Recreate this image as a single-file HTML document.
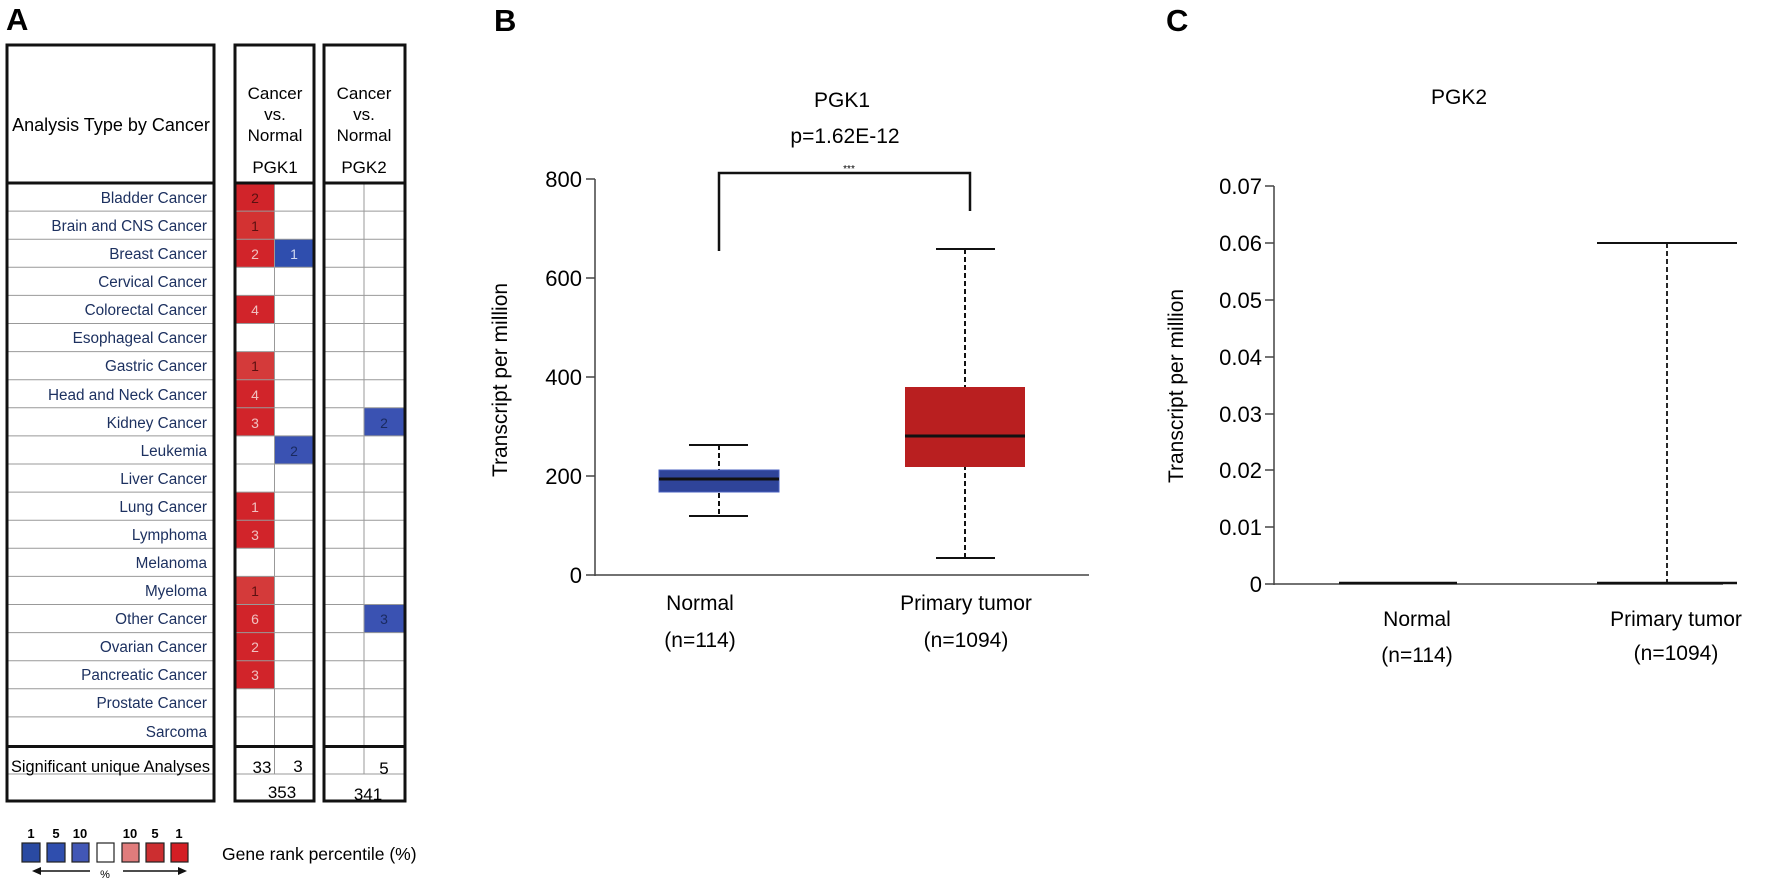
<!DOCTYPE html>
<html><head><meta charset="utf-8"><style>
html,body{margin:0;padding:0;background:#fff;}
svg{display:block;}
text{font-family:"Liberation Sans",Arial,sans-serif;}
.rl{font-family:"DejaVu Sans",sans-serif;font-size:15.3px;fill:#1d3160;text-anchor:end;}
.cn{font-family:"DejaVu Sans",sans-serif;font-size:14px;text-anchor:middle;}
</style></head><body>
<svg width="1772" height="887" viewBox="0 0 1772 887" xmlns="http://www.w3.org/2000/svg">
<!-- Panel A -->
<text x="6" y="30" font-size="31" font-weight="bold">A</text>
<g stroke="#999" stroke-width="1">
<line x1="6" x2="215" y1="211.1" y2="211.1"/><line x1="6" x2="215" y1="239.2" y2="239.2"/><line x1="6" x2="215" y1="267.3" y2="267.3"/><line x1="6" x2="215" y1="295.4" y2="295.4"/><line x1="6" x2="215" y1="323.5" y2="323.5"/><line x1="6" x2="215" y1="351.6" y2="351.6"/><line x1="6" x2="215" y1="379.7" y2="379.7"/><line x1="6" x2="215" y1="407.8" y2="407.8"/><line x1="6" x2="215" y1="435.9" y2="435.9"/><line x1="6" x2="215" y1="464" y2="464"/><line x1="6" x2="215" y1="492.1" y2="492.1"/><line x1="6" x2="215" y1="520.2" y2="520.2"/><line x1="6" x2="215" y1="548.3" y2="548.3"/><line x1="6" x2="215" y1="576.4" y2="576.4"/><line x1="6" x2="215" y1="604.5" y2="604.5"/><line x1="6" x2="215" y1="632.6" y2="632.6"/><line x1="6" x2="215" y1="660.7" y2="660.7"/><line x1="6" x2="215" y1="688.8" y2="688.8"/><line x1="6" x2="215" y1="716.9" y2="716.9"/>
</g>
<g>
<rect x="236" y="183" width="38.5" height="28.1" fill="#d1242a"/>
<rect x="236" y="211.1" width="38.5" height="28.1" fill="#d33232"/>
<rect x="236" y="239.2" width="38.5" height="28.1" fill="#d1242a"/>
<rect x="274.5" y="239.2" width="38.5" height="28.1" fill="#2f4eae"/>
<rect x="236" y="295.4" width="38.5" height="28.1" fill="#d1242a"/>
<rect x="236" y="351.6" width="38.5" height="28.1" fill="#d43a3a"/>
<rect x="236" y="379.7" width="38.5" height="28.1" fill="#d1242a"/>
<rect x="236" y="407.8" width="38.5" height="28.1" fill="#d1242a"/>
<rect x="274.5" y="435.9" width="38.5" height="28.1" fill="#3a52b2"/>
<rect x="236" y="492.1" width="38.5" height="28.1" fill="#d1242a"/>
<rect x="236" y="520.2" width="38.5" height="28.1" fill="#d1242a"/>
<rect x="236" y="576.4" width="38.5" height="28.1" fill="#d43a3a"/>
<rect x="236" y="604.5" width="38.5" height="28.1" fill="#d1242a"/>
<rect x="236" y="632.6" width="38.5" height="28.1" fill="#d1242a"/>
<rect x="236" y="660.7" width="38.5" height="28.1" fill="#d1242a"/>
<rect x="364" y="407.8" width="41" height="28.1" fill="#3a52b2"/>
<rect x="364" y="604.5" width="41" height="28.1" fill="#3a52b2"/>
</g>
<g stroke="#999" stroke-width="1">
<line x1="236" x2="313" y1="211.1" y2="211.1"/><line x1="236" x2="313" y1="239.2" y2="239.2"/><line x1="236" x2="313" y1="267.3" y2="267.3"/><line x1="236" x2="313" y1="295.4" y2="295.4"/><line x1="236" x2="313" y1="323.5" y2="323.5"/><line x1="236" x2="313" y1="351.6" y2="351.6"/><line x1="236" x2="313" y1="379.7" y2="379.7"/><line x1="236" x2="313" y1="407.8" y2="407.8"/><line x1="236" x2="313" y1="435.9" y2="435.9"/><line x1="236" x2="313" y1="464" y2="464"/><line x1="236" x2="313" y1="492.1" y2="492.1"/><line x1="236" x2="313" y1="520.2" y2="520.2"/><line x1="236" x2="313" y1="548.3" y2="548.3"/><line x1="236" x2="313" y1="576.4" y2="576.4"/><line x1="236" x2="313" y1="604.5" y2="604.5"/><line x1="236" x2="313" y1="632.6" y2="632.6"/><line x1="236" x2="313" y1="660.7" y2="660.7"/><line x1="236" x2="313" y1="688.8" y2="688.8"/><line x1="236" x2="313" y1="716.9" y2="716.9"/>
<line x1="323" x2="405" y1="211.1" y2="211.1"/><line x1="323" x2="405" y1="239.2" y2="239.2"/><line x1="323" x2="405" y1="267.3" y2="267.3"/><line x1="323" x2="405" y1="295.4" y2="295.4"/><line x1="323" x2="405" y1="323.5" y2="323.5"/><line x1="323" x2="405" y1="351.6" y2="351.6"/><line x1="323" x2="405" y1="379.7" y2="379.7"/><line x1="323" x2="405" y1="407.8" y2="407.8"/><line x1="323" x2="405" y1="435.9" y2="435.9"/><line x1="323" x2="405" y1="464" y2="464"/><line x1="323" x2="405" y1="492.1" y2="492.1"/><line x1="323" x2="405" y1="520.2" y2="520.2"/><line x1="323" x2="405" y1="548.3" y2="548.3"/><line x1="323" x2="405" y1="576.4" y2="576.4"/><line x1="323" x2="405" y1="604.5" y2="604.5"/><line x1="323" x2="405" y1="632.6" y2="632.6"/><line x1="323" x2="405" y1="660.7" y2="660.7"/><line x1="323" x2="405" y1="688.8" y2="688.8"/><line x1="323" x2="405" y1="716.9" y2="716.9"/>
<line x1="274.5" x2="274.5" y1="183" y2="774"/>
<line x1="364" x2="364" y1="183" y2="774"/>
<line x1="6" x2="215" y1="774" y2="774"/><line x1="236" x2="313" y1="774" y2="774"/><line x1="323" x2="405" y1="774" y2="774"/>
</g>
<g fill="none" stroke="#111" stroke-width="3">
<rect x="7" y="45" width="207" height="756"/>
<rect x="235" y="45" width="79" height="756"/>
<rect x="324" y="45" width="81" height="756"/>
<line x1="6" x2="215" y1="183" y2="183"/><line x1="234" x2="315" y1="183" y2="183"/><line x1="323" x2="406" y1="183" y2="183"/>
<line x1="6" x2="215" y1="746.5" y2="746.5"/><line x1="234" x2="315" y1="746.5" y2="746.5"/><line x1="323" x2="406" y1="746.5" y2="746.5"/>
</g>
<text x="111" y="131" font-size="18" text-anchor="middle">Analysis Type by Cancer</text>
<g font-size="17" text-anchor="middle">
<text x="275" y="99">Cancer</text><text x="275" y="120">vs.</text><text x="275" y="141">Normal</text><text x="275" y="173">PGK1</text>
<text x="364" y="99">Cancer</text><text x="364" y="120">vs.</text><text x="364" y="141">Normal</text><text x="364" y="173">PGK2</text>
</g>
<g class="rl">
<text x="207" y="203">Bladder Cancer</text>
<text x="207" y="231">Brain and CNS Cancer</text>
<text x="207" y="259">Breast Cancer</text>
<text x="207" y="287">Cervical Cancer</text>
<text x="207" y="315">Colorectal Cancer</text>
<text x="207" y="343">Esophageal Cancer</text>
<text x="207" y="371">Gastric Cancer</text>
<text x="207" y="400">Head and Neck Cancer</text>
<text x="207" y="428">Kidney Cancer</text>
<text x="207" y="456">Leukemia</text>
<text x="207" y="484">Liver Cancer</text>
<text x="207" y="512">Lung Cancer</text>
<text x="207" y="540">Lymphoma</text>
<text x="207" y="568">Melanoma</text>
<text x="207" y="596">Myeloma</text>
<text x="207" y="624">Other Cancer</text>
<text x="207" y="652">Ovarian Cancer</text>
<text x="207" y="680">Pancreatic Cancer</text>
<text x="207" y="708">Prostate Cancer</text>
<text x="207" y="737">Sarcoma</text>
</g>
<g class="cn">
<text x="255" y="203" fill="#5a1010">2</text>
<text x="255" y="231" fill="#5a1010">1</text>
<text x="255" y="259" fill="#f0c0c0">2</text>
<text x="294" y="259" fill="#d0d8f0">1</text>
<text x="255" y="315" fill="#f0c0c0">4</text>
<text x="255" y="371" fill="#5a1010">1</text>
<text x="255" y="400" fill="#f0c0c0">4</text>
<text x="255" y="428" fill="#f0c0c0">3</text>
<text x="294" y="456" fill="#1a2a60">2</text>
<text x="255" y="512" fill="#f0c0c0">1</text>
<text x="255" y="540" fill="#f0c0c0">3</text>
<text x="255" y="596" fill="#5a1010">1</text>
<text x="255" y="624" fill="#f0c0c0">6</text>
<text x="255" y="652" fill="#f0c0c0">2</text>
<text x="255" y="680" fill="#f0c0c0">3</text>
<text x="384" y="428" fill="#1a2a60">2</text>
<text x="384" y="624" fill="#1a2a60">3</text>
</g>
<text x="11" y="772" font-size="16.5" textLength="199" lengthAdjust="spacingAndGlyphs">Significant  unique Analyses</text>
<g font-size="17" text-anchor="middle">
<text x="262" y="773">33</text><text x="298" y="772">3</text><text x="384" y="774">5</text>
<text x="282" y="798">353</text><text x="368" y="800">341</text>
</g>
<g font-size="13" font-weight="bold" text-anchor="middle">
<text x="31" y="838">1</text><text x="56" y="838">5</text><text x="80" y="838">10</text>
<text x="130" y="838">10</text><text x="155" y="838">5</text><text x="179" y="838">1</text>
</g>
<g stroke="#222" stroke-width="1.2">
<rect x="22" y="843" width="18" height="19" fill="#2a4aa2"/>
<rect x="47" y="843" width="18" height="19" fill="#2f4eae"/>
<rect x="72" y="843" width="17" height="19" fill="#4257b6"/>
<rect x="97" y="843" width="17" height="19" fill="#fff"/>
<rect x="122" y="843" width="17" height="19" fill="#e07c7c"/>
<rect x="146" y="843" width="18" height="19" fill="#cc2e30"/>
<rect x="171" y="843" width="17" height="19" fill="#d41e24"/>
</g>
<line x1="38" y1="871" x2="90" y2="871" stroke="#111" stroke-width="1.5"/>
<polygon points="32,871 41,867 41,875" fill="#111"/>
<line x1="123" y1="871" x2="180" y2="871" stroke="#111" stroke-width="1.5"/>
<polygon points="187,871 178,867 178,875" fill="#111"/>
<text x="105" y="878" font-size="11" text-anchor="middle">%</text>
<text x="222" y="860" font-size="17.5">Gene rank percentile (%)</text>

<!-- Panel B -->
<text x="494" y="31" font-size="31" font-weight="bold">B</text>
<text x="842" y="107" font-size="21" text-anchor="middle">PGK1</text>
<text x="845" y="143" font-size="21" text-anchor="middle">p=1.62E-12</text>
<text x="849" y="172" font-size="10" text-anchor="middle">***</text>
<polyline points="719,251 719,173 970,173 970,211" fill="none" stroke="#111" stroke-width="2.5"/>
<g stroke="#444" stroke-width="1.5">
<line x1="595" y1="179" x2="595" y2="576"/>
<line x1="586" y1="575" x2="1089" y2="575"/>
<line x1="586" y1="179" x2="595" y2="179"/><line x1="586" y1="278" x2="595" y2="278"/><line x1="586" y1="377" x2="595" y2="377"/><line x1="586" y1="476" x2="595" y2="476"/>
</g>
<g font-size="22" text-anchor="end">
<text x="582" y="187">800</text><text x="582" y="286">600</text><text x="582" y="385">400</text><text x="582" y="484">200</text><text x="582" y="583">0</text>
</g>
<text transform="translate(507,380) rotate(-90)" font-size="21" text-anchor="middle">Transcript per million</text>
<g stroke="#111" stroke-width="2">
<line x1="719" y1="445" x2="719" y2="516" stroke-dasharray="5,3"/>
<line x1="689" y1="445" x2="748" y2="445"/><line x1="689" y1="516" x2="748" y2="516"/>
</g>
<rect x="659" y="470" width="120" height="22" fill="#2f4499" stroke="#4a60c0" stroke-width="1"/>
<line x1="659" y1="479" x2="779" y2="479" stroke="#111" stroke-width="3"/>
<g stroke="#111" stroke-width="2">
<line x1="965" y1="249" x2="965" y2="558" stroke-dasharray="5,3"/>
<line x1="936" y1="249" x2="995" y2="249"/><line x1="936" y1="558" x2="995" y2="558"/>
</g>
<rect x="905" y="387" width="120" height="80" fill="#b91f20"/>
<line x1="905" y1="436" x2="1025" y2="436" stroke="#111" stroke-width="3"/>
<g font-size="21" text-anchor="middle">
<text x="700" y="610">Normal</text><text x="700" y="647">(n=114)</text>
<text x="966" y="610">Primary  tumor</text><text x="966" y="647">(n=1094)</text>
</g>

<!-- Panel C -->
<text x="1166" y="31" font-size="31" font-weight="bold">C</text>
<text x="1459" y="104" font-size="21" text-anchor="middle">PGK2</text>
<g stroke="#444" stroke-width="1.5">
<line x1="1274" y1="186" x2="1274" y2="585"/>
<line x1="1265" y1="584" x2="1723" y2="584"/>
<line x1="1265" y1="186" x2="1274" y2="186"/><line x1="1265" y1="243" x2="1274" y2="243"/><line x1="1265" y1="300" x2="1274" y2="300"/><line x1="1265" y1="357" x2="1274" y2="357"/><line x1="1265" y1="414" x2="1274" y2="414"/><line x1="1265" y1="470" x2="1274" y2="470"/><line x1="1265" y1="527" x2="1274" y2="527"/>
</g>
<g font-size="22" text-anchor="end">
<text x="1262" y="194">0.07</text><text x="1262" y="251">0.06</text><text x="1262" y="308">0.05</text><text x="1262" y="365">0.04</text><text x="1262" y="422">0.03</text><text x="1262" y="478">0.02</text><text x="1262" y="535">0.01</text><text x="1262" y="592">0</text>
</g>
<text transform="translate(1183,386) rotate(-90)" font-size="21" text-anchor="middle">Transcript per million</text>
<line x1="1339" y1="583" x2="1457" y2="583" stroke="#111" stroke-width="2.5"/>
<line x1="1597" y1="583" x2="1737" y2="583" stroke="#111" stroke-width="2.5"/>
<line x1="1667" y1="243" x2="1667" y2="584" stroke="#111" stroke-width="1.8" stroke-dasharray="5,3"/>
<line x1="1597" y1="243" x2="1737" y2="243" stroke="#111" stroke-width="2"/>
<g font-size="21" text-anchor="middle">
<text x="1417" y="626">Normal</text><text x="1417" y="662">(n=114)</text>
<text x="1676" y="626">Primary  tumor</text><text x="1676" y="660">(n=1094)</text>
</g>
</svg>
</body></html>
